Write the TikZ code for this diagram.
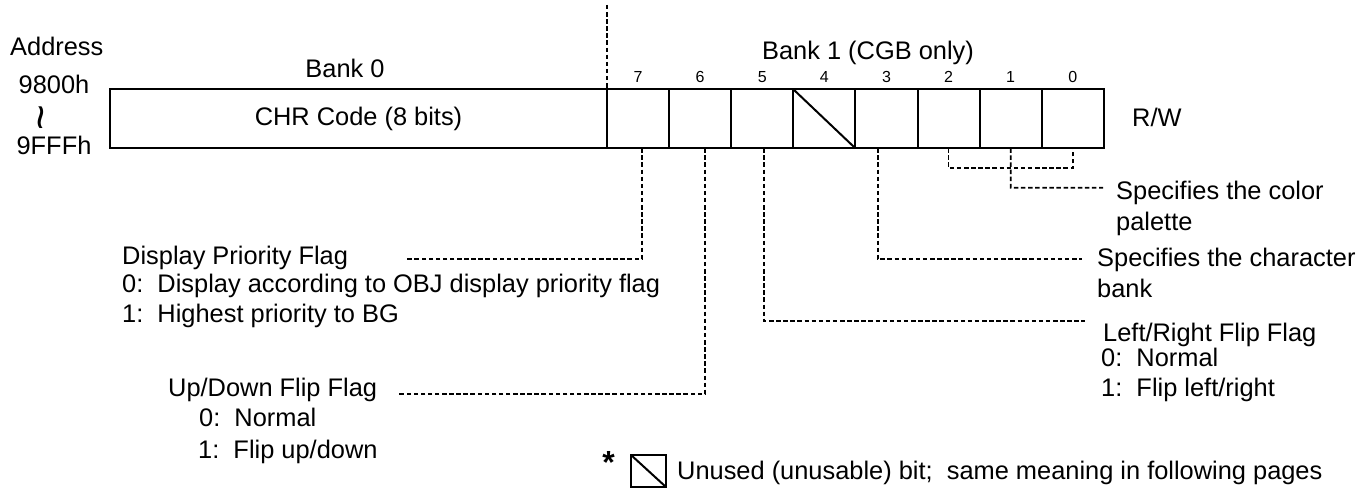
\documentclass[tikz,border=0pt]{standalone}
\usepackage{fontspec}
\setmainfont{Liberation Sans}
\begin{document}
\begin{tikzpicture}[x=1pt,y=-1pt,
  box/.style={draw,line width=2pt,inner sep=0pt,outer sep=0pt,minimum height=59pt},
  cell/.style={box,minimum width=62.1pt},
  lead/.style={line width=1.7pt,dash pattern=on 4.5pt off 2.6pt},
  txt/.style={inner sep=0pt,anchor=base west,font=\fontsize{25.4pt}{30pt}\selectfont},
  ctxt/.style={inner sep=0pt,anchor=base,font=\fontsize{25.4pt}{30pt}\selectfont},
  bitno/.style={inner sep=0pt,anchor=base,font=\fontsize{16pt}{18pt}\selectfont}]
\useasboundingbox (0,0) rectangle (1360,489);

% register
\node[box,minimum width=497pt,font=\fontsize{25.4pt}{30pt}\selectfont] (bank0box) at (358.5,118.8) {CHR Code (8 bits)};
\foreach \i in {7,6,...,0}{
  \pgfmathsetmacro{\cx}{638.05+(7-\i)*62.1}
  \node[cell] (c\i) at (\cx,118.8) {};
  \node[bitno] (n\i) at (\cx,82.5) {\i};
}
\draw[line width=2pt] (c4.north west) -- (c4.south east);

% titles
\node[txt] (addr) at (10,56) {Address};
\node[ctxt] (a1) at (54,94) {9800h};
\node[rotate=90,inner sep=0pt,font=\fontsize{44pt}{44pt}\selectfont] (tl) at (47,118) {\textasciitilde};
\node[ctxt] (a2) at (54,155) {9FFFh};
\node[ctxt] (bk0) at (345,78) {Bank 0};
\node[ctxt] (bk1) at (868,60) {Bank 1 (CGB only)};
\node[txt] (rw) at (1132,127) {R/W};

% right texts
\node[txt] (pal1) at (1116,200) {Specifies the color};
\node[txt] (pal2) at (1116,231) {palette};
\node[txt] (chb1) at (1097,266) {Specifies the character};
\node[txt] (chb2) at (1097,297) {bank};
\node[txt] (lr1) at (1103,341) {Left/Right Flip Flag};
\node[txt] (lr2) at (1101,366) {0:~~Normal};
\node[txt] (lr3) at (1101,396) {1:~~Flip left/right};

% left texts
\node[txt] (dp1) at (122,264) {Display Priority Flag};
\node[txt] (dp2) at (122,292.5) {0:~~Display according to OBJ display priority flag};
\node[txt] (dp3) at (122,322.5) {1:~~Highest priority to BG};
\node[txt] (ud1) at (168,396) {Up/Down Flip Flag};
\node[txt] (ud2) at (199,426) {0:~~Normal};
\node[txt] (ud3) at (198,458) {1:~~Flip up/down};

% legend
\node[anchor=north,inner sep=0pt,font=\bfseries\fontsize{32pt}{32pt}\selectfont] (star) at (608.5,451) {*};
\node[draw,line width=2pt,inner sep=0pt,outer sep=0pt,minimum width=35pt,minimum height=32pt] (lgbox) at (648.5,471) {};
\draw[line width=2pt] (lgbox.north west) -- (lgbox.south east);
\node[txt] (lgtxt) at (677,479) {Unused (unusable) bit;~~same meaning in following pages};

% leaders
\coordinate (topd) at (607,5);
\draw[lead] (topd) -- (c7.north west);
\coordinate (e7) at (406,259.3);
\draw[lead] ([xshift=3.6pt]c7.south) |- (e7);
\coordinate (e6) at (399,394);
\draw[lead] ([xshift=4.8pt]c6.south) |- (e6);
\coordinate (e5) at (1085,321);
\draw[lead] ([xshift=2pt]c5.south) |- (e5);
\coordinate (e3) at (1082,259.3);
\draw[lead] ([xshift=-8.7pt]c3.south) |- (e3);
\coordinate (j) at (1010.65,168.3);
\coordinate (e0) at (1103,187.7);
\draw[lead] (c2.south) -- (c2.south |- j) -- (c0.south |- j) -- (c0.south);
\draw[lead] (c1.south) -- (j) |- (e0);
\end{tikzpicture}
\end{document}
